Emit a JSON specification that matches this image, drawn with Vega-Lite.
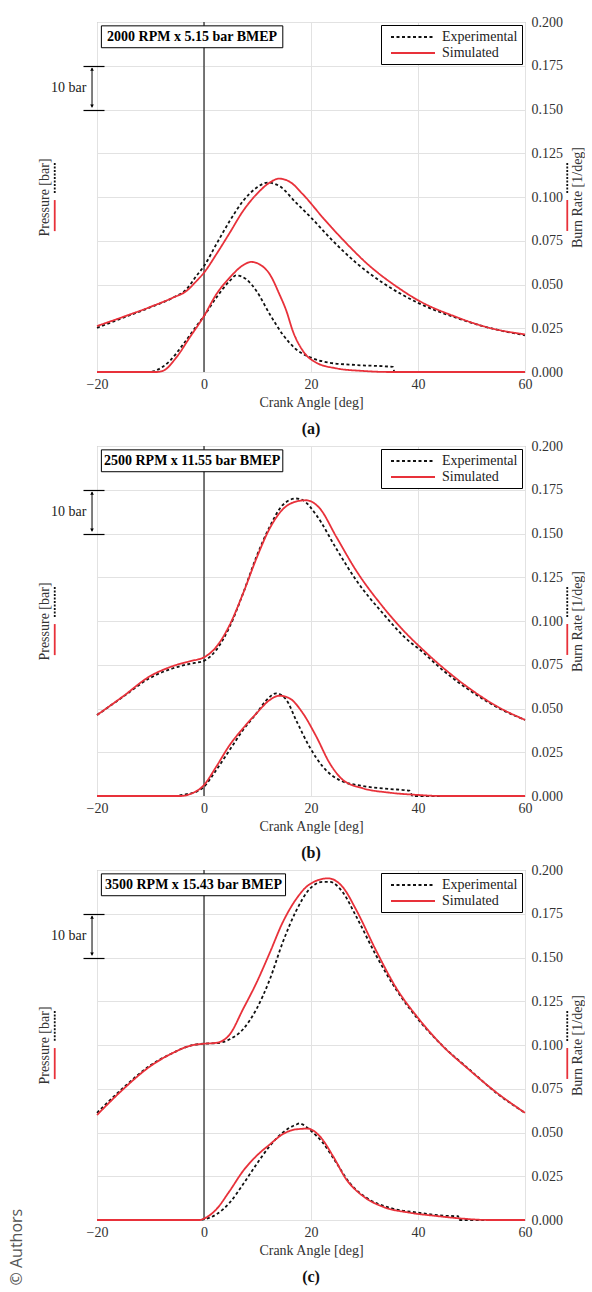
{
"$schema":"https://vega.github.io/schema/vega-lite/v6.json",
"background":"white",
"padding":{"left":9,"top":14,"right":0,"bottom":0},
"title":{"text":"© Authors","orient":"left","anchor":"start","font":"Open Sans","fontSize":16,"fontWeight":"normal","color":"#555","offset":12},
"spacing":0,
"resolve":{"scale":{"color":"independent","strokeDash":"independent"},"legend":{"color":"independent","strokeDash":"independent"}},
"datasets":{
"pa":[
{"s":"Experimental","d":-20,"v":10.1},{"s":"Experimental","d":-15.1,"v":12.4},{"s":"Experimental","d":-10.2,"v":14.7},{"s":"Experimental","d":-5.8,"v":17.0},{"s":"Experimental","d":-3.3,"v":18.9},{"s":"Experimental","d":-1.4,"v":22.0},{"s":"Experimental","d":0,"v":24.2},{"s":"Experimental","d":2.3,"v":29.2},{"s":"Experimental","d":4.8,"v":34.5},{"s":"Experimental","d":7.3,"v":39.1},{"s":"Experimental","d":9.8,"v":42.1},{"s":"Experimental","d":11.9,"v":43.3},{"s":"Experimental","d":14.1,"v":42.5},{"s":"Experimental","d":17.2,"v":38.7},{"s":"Experimental","d":20,"v":35.3},{"s":"Experimental","d":23.5,"v":30.7},{"s":"Experimental","d":28.4,"v":25.0},{"s":"Experimental","d":33.4,"v":20.4},{"s":"Experimental","d":40,"v":15.8},{"s":"Experimental","d":47.1,"v":12.4},{"s":"Experimental","d":53.3,"v":10.1},{"s":"Experimental","d":60,"v":8.4},
{"s":"Simulated","d":-20,"v":10.5},{"s":"Simulated","d":-15.1,"v":12.6},{"s":"Simulated","d":-10.2,"v":14.8},{"s":"Simulated","d":-5.8,"v":17.0},{"s":"Simulated","d":-3.3,"v":18.5},{"s":"Simulated","d":-1.4,"v":20.8},{"s":"Simulated","d":0,"v":22.7},{"s":"Simulated","d":2.3,"v":26.9},{"s":"Simulated","d":4.8,"v":31.8},{"s":"Simulated","d":7.3,"v":36.8},{"s":"Simulated","d":9.8,"v":40.6},{"s":"Simulated","d":12.3,"v":43.3},{"s":"Simulated","d":14.0,"v":44.2},{"s":"Simulated","d":16.0,"v":43.5},{"s":"Simulated","d":18.5,"v":40.6},{"s":"Simulated","d":22.2,"v":35.3},{"s":"Simulated","d":26.0,"v":30.2},{"s":"Simulated","d":31.0,"v":24.2},{"s":"Simulated","d":35.9,"v":19.6},{"s":"Simulated","d":40,"v":16.4},{"s":"Simulated","d":47.1,"v":12.6},{"s":"Simulated","d":53.3,"v":10.1},{"s":"Simulated","d":60,"v":8.6}],
"pb":[
{"s":"Experimental","d":-20,"v":18.5},{"s":"Experimental","d":-15.1,"v":22.7},{"s":"Experimental","d":-10.2,"v":26.9},{"s":"Experimental","d":-5.8,"v":29.2},{"s":"Experimental","d":-2.7,"v":30.2},{"s":"Experimental","d":0,"v":30.9},{"s":"Experimental","d":2.3,"v":33.4},{"s":"Experimental","d":4.8,"v":38.7},{"s":"Experimental","d":7.3,"v":46.3},{"s":"Experimental","d":9.8,"v":54.7},{"s":"Experimental","d":12.3,"v":61.6},{"s":"Experimental","d":14.7,"v":66.5},{"s":"Experimental","d":17.2,"v":68.0},{"s":"Experimental","d":18.5,"v":67.6},{"s":"Experimental","d":21.0,"v":64.2},{"s":"Experimental","d":24.7,"v":56.6},{"s":"Experimental","d":28.4,"v":49.4},{"s":"Experimental","d":33.4,"v":41.8},{"s":"Experimental","d":38.4,"v":35.3},{"s":"Experimental","d":40,"v":33.8},{"s":"Experimental","d":44.6,"v":28.8},{"s":"Experimental","d":49.6,"v":24.2},{"s":"Experimental","d":54.6,"v":20.4},{"s":"Experimental","d":60,"v":17.4},
{"s":"Simulated","d":-20,"v":18.5},{"s":"Simulated","d":-15.1,"v":22.8},{"s":"Simulated","d":-10.2,"v":27.3},{"s":"Simulated","d":-5.8,"v":29.7},{"s":"Simulated","d":-2.7,"v":30.8},{"s":"Simulated","d":0,"v":31.7},{"s":"Simulated","d":2.3,"v":34.1},{"s":"Simulated","d":4.8,"v":39.1},{"s":"Simulated","d":7.3,"v":46.3},{"s":"Simulated","d":9.8,"v":54.3},{"s":"Simulated","d":12.3,"v":61.2},{"s":"Simulated","d":14.7,"v":65.5},{"s":"Simulated","d":17.2,"v":67.3},{"s":"Simulated","d":19.1,"v":67.6},{"s":"Simulated","d":21.6,"v":65.8},{"s":"Simulated","d":24.7,"v":59.3},{"s":"Simulated","d":28.4,"v":51.6},{"s":"Simulated","d":33.4,"v":43.3},{"s":"Simulated","d":38.4,"v":36.4},{"s":"Simulated","d":40,"v":34.5},{"s":"Simulated","d":44.6,"v":29.4},{"s":"Simulated","d":49.6,"v":24.6},{"s":"Simulated","d":54.6,"v":20.6},{"s":"Simulated","d":60,"v":17.4}],
"pc":[
{"s":"Experimental","d":-20,"v":24.5},{"s":"Experimental","d":-15.1,"v":30.2},{"s":"Experimental","d":-10.2,"v":35.2},{"s":"Experimental","d":-5.8,"v":38.2},{"s":"Experimental","d":-2.7,"v":39.8},{"s":"Experimental","d":0,"v":40.3},{"s":"Experimental","d":2.3,"v":40.4},{"s":"Experimental","d":4.8,"v":41.3},{"s":"Experimental","d":7.3,"v":43.6},{"s":"Experimental","d":9.8,"v":48.2},{"s":"Experimental","d":12.3,"v":55.0},{"s":"Experimental","d":14.7,"v":63.4},{"s":"Experimental","d":17.2,"v":70.6},{"s":"Experimental","d":19.7,"v":75.6},{"s":"Experimental","d":22.2,"v":77.3},{"s":"Experimental","d":23.5,"v":77.3},{"s":"Experimental","d":26.0,"v":74.8},{"s":"Experimental","d":28.4,"v":69.5},{"s":"Experimental","d":32.2,"v":60.4},{"s":"Experimental","d":35.9,"v":52.7},{"s":"Experimental","d":40,"v":45.9},{"s":"Experimental","d":44.6,"v":39.8},{"s":"Experimental","d":49.6,"v":34.4},{"s":"Experimental","d":54.6,"v":29.1},{"s":"Experimental","d":60,"v":24.5},
{"s":"Simulated","d":-20,"v":24.0},{"s":"Simulated","d":-15.1,"v":29.9},{"s":"Simulated","d":-10.2,"v":35.0},{"s":"Simulated","d":-5.8,"v":38.2},{"s":"Simulated","d":-2.7,"v":39.8},{"s":"Simulated","d":0,"v":40.3},{"s":"Simulated","d":2.3,"v":40.5},{"s":"Simulated","d":4.8,"v":42.4},{"s":"Simulated","d":7.3,"v":48.2},{"s":"Simulated","d":9.8,"v":54.2},{"s":"Simulated","d":12.3,"v":61.1},{"s":"Simulated","d":14.7,"v":68.0},{"s":"Simulated","d":17.2,"v":73.3},{"s":"Simulated","d":19.7,"v":76.7},{"s":"Simulated","d":23.2,"v":78.1},{"s":"Simulated","d":26.0,"v":76.0},{"s":"Simulated","d":28.4,"v":71.0},{"s":"Simulated","d":32.2,"v":61.5},{"s":"Simulated","d":35.9,"v":53.1},{"s":"Simulated","d":40,"v":46.2},{"s":"Simulated","d":44.6,"v":39.8},{"s":"Simulated","d":49.6,"v":34.3},{"s":"Simulated","d":54.6,"v":29.2},{"s":"Simulated","d":60,"v":24.5}],
"ba":[
{"s":"Experimental","d":-20,"v":0},{"s":"Experimental","d":-10.2,"v":0},{"s":"Experimental","d":-8.9,"v":0.001},{"s":"Experimental","d":-6.4,"v":0.0063},{"s":"Experimental","d":-3.9,"v":0.0158},{"s":"Experimental","d":-1.4,"v":0.0263},{"s":"Experimental","d":0,"v":0.032},{"s":"Experimental","d":2.3,"v":0.0425},{"s":"Experimental","d":4.8,"v":0.052},{"s":"Experimental","d":6.0,"v":0.0552},{"s":"Experimental","d":7.9,"v":0.053},{"s":"Experimental","d":9.8,"v":0.0463},{"s":"Experimental","d":12.3,"v":0.033},{"s":"Experimental","d":14.7,"v":0.0215},{"s":"Experimental","d":17.2,"v":0.013},{"s":"Experimental","d":20,"v":0.0082},{"s":"Experimental","d":23.5,"v":0.0053},{"s":"Experimental","d":28.4,"v":0.004},{"s":"Experimental","d":35.3,"v":0.0029},{"s":"Experimental","d":35.6,"v":0},{"s":"Experimental","d":60,"v":0},
{"s":"Simulated","d":-20,"v":0},{"s":"Simulated","d":-8.9,"v":0},{"s":"Simulated","d":-7.7,"v":0.0006},{"s":"Simulated","d":-5.2,"v":0.0082},{"s":"Simulated","d":-2.7,"v":0.0196},{"s":"Simulated","d":0,"v":0.032},{"s":"Simulated","d":2.3,"v":0.0444},{"s":"Simulated","d":4.8,"v":0.0539},{"s":"Simulated","d":7.3,"v":0.061},{"s":"Simulated","d":8.8,"v":0.0629},{"s":"Simulated","d":10.4,"v":0.0615},{"s":"Simulated","d":12.3,"v":0.0558},{"s":"Simulated","d":14.1,"v":0.0444},{"s":"Simulated","d":15.4,"v":0.0349},{"s":"Simulated","d":16.6,"v":0.0234},{"s":"Simulated","d":18.5,"v":0.012},{"s":"Simulated","d":21,"v":0.0053},{"s":"Simulated","d":24.7,"v":0.0021},{"s":"Simulated","d":29.7,"v":0.0006},{"s":"Simulated","d":34.7,"v":0},{"s":"Simulated","d":60,"v":0}],
"bb":[
{"s":"Experimental","d":-20,"v":0},{"s":"Experimental","d":-5.8,"v":0},{"s":"Experimental","d":-3.3,"v":0.001},{"s":"Experimental","d":-1.4,"v":0.0025},{"s":"Experimental","d":0,"v":0.0053},{"s":"Experimental","d":2.3,"v":0.0149},{"s":"Experimental","d":4.8,"v":0.0263},{"s":"Experimental","d":7.3,"v":0.0377},{"s":"Experimental","d":9.8,"v":0.0472},{"s":"Experimental","d":11.6,"v":0.0545},{"s":"Experimental","d":13.5,"v":0.0587},{"s":"Experimental","d":15.4,"v":0.0549},{"s":"Experimental","d":17.2,"v":0.0434},{"s":"Experimental","d":19.7,"v":0.0282},{"s":"Experimental","d":22.2,"v":0.0168},{"s":"Experimental","d":25.3,"v":0.0091},{"s":"Experimental","d":29.7,"v":0.0057},{"s":"Experimental","d":34.7,"v":0.004},{"s":"Experimental","d":38.4,"v":0.003},{"s":"Experimental","d":39.0,"v":0},{"s":"Experimental","d":60,"v":0},
{"s":"Simulated","d":-20,"v":0},{"s":"Simulated","d":-4.5,"v":0},{"s":"Simulated","d":-2.7,"v":0.001},{"s":"Simulated","d":0,"v":0.0063},{"s":"Simulated","d":2.3,"v":0.0168},{"s":"Simulated","d":4.8,"v":0.0291},{"s":"Simulated","d":7.3,"v":0.0387},{"s":"Simulated","d":9.8,"v":0.0472},{"s":"Simulated","d":12.3,"v":0.0549},{"s":"Simulated","d":14.1,"v":0.0573},{"s":"Simulated","d":16.0,"v":0.0558},{"s":"Simulated","d":18.5,"v":0.0472},{"s":"Simulated","d":21.0,"v":0.0339},{"s":"Simulated","d":23.5,"v":0.0187},{"s":"Simulated","d":26.0,"v":0.0091},{"s":"Simulated","d":29.7,"v":0.0044},{"s":"Simulated","d":34.7,"v":0.0019},{"s":"Simulated","d":40,"v":0.0006},{"s":"Simulated","d":44.6,"v":0},{"s":"Simulated","d":60,"v":0}],
"bc":[
{"s":"Experimental","d":-20,"v":0},{"s":"Experimental","d":-1,"v":0},{"s":"Experimental","d":0,"v":0.0004},{"s":"Experimental","d":2.3,"v":0.0032},{"s":"Experimental","d":4.8,"v":0.0099},{"s":"Experimental","d":7.3,"v":0.0204},{"s":"Experimental","d":9.8,"v":0.0318},{"s":"Experimental","d":12.3,"v":0.0423},{"s":"Experimental","d":14.7,"v":0.0499},{"s":"Experimental","d":17.2,"v":0.0545},{"s":"Experimental","d":17.9,"v":0.0552},{"s":"Experimental","d":18.5,"v":0.0545},{"s":"Experimental","d":20,"v":0.0509},{"s":"Experimental","d":22.2,"v":0.0442},{"s":"Experimental","d":24.7,"v":0.0328},{"s":"Experimental","d":27.2,"v":0.0213},{"s":"Experimental","d":30.3,"v":0.0128},{"s":"Experimental","d":34.7,"v":0.007},{"s":"Experimental","d":40,"v":0.0042},{"s":"Experimental","d":45.9,"v":0.0023},{"s":"Experimental","d":47.5,"v":0.0022},{"s":"Experimental","d":47.7,"v":0},{"s":"Experimental","d":60,"v":0},
{"s":"Simulated","d":-20,"v":0},{"s":"Simulated","d":-0.8,"v":0},{"s":"Simulated","d":0,"v":0.0008},{"s":"Simulated","d":2.3,"v":0.0061},{"s":"Simulated","d":4.8,"v":0.0166},{"s":"Simulated","d":7.3,"v":0.028},{"s":"Simulated","d":9.8,"v":0.0366},{"s":"Simulated","d":12.3,"v":0.0432},{"s":"Simulated","d":14.7,"v":0.049},{"s":"Simulated","d":17.2,"v":0.0518},{"s":"Simulated","d":19.4,"v":0.0522},{"s":"Simulated","d":21.6,"v":0.048},{"s":"Simulated","d":24.1,"v":0.0366},{"s":"Simulated","d":26.6,"v":0.0232},{"s":"Simulated","d":29.7,"v":0.0137},{"s":"Simulated","d":33.4,"v":0.0076},{"s":"Simulated","d":38.4,"v":0.0042},{"s":"Simulated","d":43.4,"v":0.0023},{"s":"Simulated","d":48.3,"v":0.0008},{"s":"Simulated","d":53.3,"v":0},{"s":"Simulated","d":60,"v":0}]
},
"vconcat":[
{"width":428,"height":350,
 "title":{"text":"(a)","orient":"bottom","offset":12,"fontSize":16,"fontWeight":"bold","font":"Liberation Serif","color":"#111","frame":"group","anchor":"middle"},
 "resolve":{"scale":{"y":"independent"}},
 "layer":[
  {"layer":[
    {"data":{"values":[{}]},"mark":{"type":"rule","color":"#222","strokeWidth":1.2},"encoding":{"x":{"datum":0,"type":"quantitative","scale":{"domain":[-20,60],"nice":false,"zero":false}}}},
    {"data":{"name":"pa"},"mark":{"type":"line","interpolate":"monotone","strokeWidth":1.8},
     "encoding":{
      "x":{"field":"d","type":"quantitative","scale":{"domain":[-20,60],"nice":false,"zero":false},"axis":{"values":[-20,0,20,40,60],"grid":true,"gridColor":"#e2e2e2","domain":false,"ticks":false,"tickSize":0,"labelPadding":5,"labelFlush":false,"labelOverlap":false,"labelFont":"Liberation Serif","titleFont":"Liberation Serif","title":"Crank Angle [deg]","titlePadding":4}},
      "y":{"field":"v","type":"quantitative","scale":{"domain":[0,80],"nice":false,"zero":false},"axis":{"orient":"left","values":[60,65,70],"labelExpr":"datum.value == 65 ? '10 bar' : ''","offset":-7,"tickSize":21,"tickColor":"black","tickWidth":1.2,"tickOpacity":{"condition":{"test":"datum.value == 65","value":0},"value":1},"domain":false,"grid":false,"labelPadding":-3,"labelColor":"#222","labelOverlap":false,"labelFont":"Liberation Serif","titleFont":"Liberation Serif","title":"Pressure [bar]","titlePadding":-1}},
      "color":{"field":"s","type":"nominal","scale":{"domain":["Experimental","Simulated"],"range":["#111111","#e8313a"]},"legend":{"title":null,"orient":"top-right","offset":3,"strokeColor":"black","fillColor":"white","padding":4,"symbolType":"M-0.286,0H6","symbolSize":196,"symbolStrokeWidth":1.8,"labelFont":"Liberation Serif","labelFontSize":14,"labelColor":"#222","rowPadding":1,"labelOffset":41}},
      "strokeDash":{"field":"s","type":"nominal","scale":{"domain":["Experimental","Simulated"],"range":[[3,2.5],[1,0]]},"legend":{"title":null,"orient":"top-right","offset":3,"strokeColor":"black","fillColor":"white","padding":4,"symbolType":"M-0.286,0H6","symbolSize":196,"symbolStrokeWidth":1.8,"labelFont":"Liberation Serif","labelFontSize":14,"labelColor":"#222","rowPadding":1,"labelOffset":41}}}},
    {"data":{"values":[{}]},"mark":{"type":"rule","color":"black","strokeWidth":1},"encoding":{"x":{"datum":-20.93,"type":"quantitative","scale":{"domain":[-20,60],"nice":false,"zero":false}},"y":{"datum":60.5,"type":"quantitative","scale":{"domain":[0,80],"nice":false,"zero":false}},"y2":{"datum":69.5}}},
    {"data":{"values":[{}]},"mark":{"type":"point","shape":"triangle-up","filled":true,"size":14,"color":"black","opacity":1},"encoding":{"x":{"datum":-20.93,"type":"quantitative","scale":{"domain":[-20,60],"nice":false,"zero":false}},"y":{"datum":69.2,"type":"quantitative","scale":{"domain":[0,80],"nice":false,"zero":false}}}},
    {"data":{"values":[{}]},"mark":{"type":"point","shape":"triangle-down","filled":true,"size":14,"color":"black","opacity":1},"encoding":{"x":{"datum":-20.93,"type":"quantitative","scale":{"domain":[-20,60],"nice":false,"zero":false}},"y":{"datum":60.8,"type":"quantitative","scale":{"domain":[0,80],"nice":false,"zero":false}}}},
    {"data":{"values":[{}]},"mark":{"type":"rule","color":"#111","strokeWidth":1.8,"strokeDash":[2,1.5]},"encoding":{"x":{"datum":-27.9,"type":"quantitative","scale":{"domain":[-20,60],"nice":false,"zero":false}},"y":{"datum":47.8,"type":"quantitative","scale":{"domain":[0,80],"nice":false,"zero":false}},"y2":{"datum":40.7}}},
    {"data":{"values":[{}]},"mark":{"type":"rule","color":"#e8313a","strokeWidth":1.8},"encoding":{"x":{"datum":-27.9,"type":"quantitative","scale":{"domain":[-20,60],"nice":false,"zero":false}},"y":{"datum":39.3,"type":"quantitative","scale":{"domain":[0,80],"nice":false,"zero":false}},"y2":{"datum":32.2}}}
  ]},
  {"layer":[
    {"data":{"name":"ba"},"mark":{"type":"line","interpolate":"monotone","strokeWidth":1.8},
     "encoding":{
      "x":{"field":"d","type":"quantitative","scale":{"domain":[-20,60],"nice":false,"zero":false}},
      "y":{"field":"v","type":"quantitative","scale":{"domain":[0,0.2],"nice":false,"zero":false},"axis":{"orient":"right","values":[0,0.025,0.05,0.075,0.1,0.125,0.15,0.175,0.2],"format":".3f","grid":true,"gridColor":"#e2e2e2","domain":false,"ticks":false,"tickSize":0,"labelPadding":6,"labelOverlap":false,"labelFlush":false,"labelFont":"Liberation Serif","titleFont":"Liberation Serif","title":"Burn Rate [1/deg]","titleAngle":270,"titleBaseline":"top","titlePadding":8}},
      "color":{"field":"s","type":"nominal","scale":{"domain":["Experimental","Simulated"],"range":["#111111","#e8313a"]},"legend":{"title":null,"orient":"top-right","offset":3,"strokeColor":"black","fillColor":"white","padding":4,"symbolType":"M-0.286,0H6","symbolSize":196,"symbolStrokeWidth":1.8,"labelFont":"Liberation Serif","labelFontSize":14,"labelColor":"#222","rowPadding":1,"labelOffset":41}},
      "strokeDash":{"field":"s","type":"nominal","scale":{"domain":["Experimental","Simulated"],"range":[[3,2.5],[1,0]]},"legend":{"title":null,"orient":"top-right","offset":3,"strokeColor":"black","fillColor":"white","padding":4,"symbolType":"M-0.286,0H6","symbolSize":196,"symbolStrokeWidth":1.8,"labelFont":"Liberation Serif","labelFontSize":14,"labelColor":"#222","rowPadding":1,"labelOffset":41}}}},
    {"data":{"values":[{}]},"mark":{"type":"rect","fill":"white","stroke":"black","strokeWidth":1},"encoding":{"x":{"datum":-19.18,"type":"quantitative","scale":{"domain":[-20,60],"nice":false,"zero":false}},"x2":{"datum":14.73},"y":{"datum":0.1978,"type":"quantitative","scale":{"domain":[0,0.2],"nice":false,"zero":false}},"y2":{"datum":0.1853}}},
    {"data":{"values":[{}]},"mark":{"type":"text","text":"2000 RPM x 5.15 bar BMEP","font":"Liberation Serif","fontSize":14,"fontWeight":"bold","color":"black","align":"center","baseline":"middle"},"encoding":{"x":{"datum":-2.22,"type":"quantitative","scale":{"domain":[-20,60],"nice":false,"zero":false}},"y":{"datum":0.1915,"type":"quantitative","scale":{"domain":[0,0.2],"nice":false,"zero":false}}}},
    {"data":{"values":[{}]},"mark":{"type":"rule","color":"#111","strokeWidth":1.8,"strokeDash":[2,1.5]},"encoding":{"x":{"datum":67.9,"type":"quantitative","scale":{"domain":[-20,60],"nice":false,"zero":false}},"y":{"datum":0.1194,"type":"quantitative","scale":{"domain":[0,0.2],"nice":false,"zero":false}},"y2":{"datum":0.1017}}},
    {"data":{"values":[{}]},"mark":{"type":"rule","color":"#e8313a","strokeWidth":1.8},"encoding":{"x":{"datum":67.9,"type":"quantitative","scale":{"domain":[-20,60],"nice":false,"zero":false}},"y":{"datum":0.0983,"type":"quantitative","scale":{"domain":[0,0.2],"nice":false,"zero":false}},"y2":{"datum":0.0806}}}
  ]}
 ]},
{"width":428,"height":350,
 "title":{"text":"(b)","orient":"bottom","offset":12,"fontSize":16,"fontWeight":"bold","font":"Liberation Serif","color":"#111","frame":"group","anchor":"middle"},
 "resolve":{"scale":{"y":"independent"}},
 "layer":[
  {"layer":[
    {"data":{"values":[{}]},"mark":{"type":"rule","color":"#222","strokeWidth":1.2},"encoding":{"x":{"datum":0,"type":"quantitative","scale":{"domain":[-20,60],"nice":false,"zero":false}}}},
    {"data":{"name":"pb"},"mark":{"type":"line","interpolate":"monotone","strokeWidth":1.8},
     "encoding":{
      "x":{"field":"d","type":"quantitative","scale":{"domain":[-20,60],"nice":false,"zero":false},"axis":{"values":[-20,0,20,40,60],"grid":true,"gridColor":"#e2e2e2","domain":false,"ticks":false,"tickSize":0,"labelPadding":5,"labelFlush":false,"labelOverlap":false,"labelFont":"Liberation Serif","titleFont":"Liberation Serif","title":"Crank Angle [deg]","titlePadding":4}},
      "y":{"field":"v","type":"quantitative","scale":{"domain":[0,80],"nice":false,"zero":false},"axis":{"orient":"left","values":[60,65,70],"labelExpr":"datum.value == 65 ? '10 bar' : ''","offset":-7,"tickSize":21,"tickColor":"black","tickWidth":1.2,"tickOpacity":{"condition":{"test":"datum.value == 65","value":0},"value":1},"domain":false,"grid":false,"labelPadding":-3,"labelColor":"#222","labelOverlap":false,"labelFont":"Liberation Serif","titleFont":"Liberation Serif","title":"Pressure [bar]","titlePadding":-1}},
      "color":{"field":"s","type":"nominal","scale":{"domain":["Experimental","Simulated"],"range":["#111111","#e8313a"]},"legend":{"title":null,"orient":"top-right","offset":3,"strokeColor":"black","fillColor":"white","padding":4,"symbolType":"M-0.286,0H6","symbolSize":196,"symbolStrokeWidth":1.8,"labelFont":"Liberation Serif","labelFontSize":14,"labelColor":"#222","rowPadding":1,"labelOffset":41}},
      "strokeDash":{"field":"s","type":"nominal","scale":{"domain":["Experimental","Simulated"],"range":[[3,2.5],[1,0]]},"legend":{"title":null,"orient":"top-right","offset":3,"strokeColor":"black","fillColor":"white","padding":4,"symbolType":"M-0.286,0H6","symbolSize":196,"symbolStrokeWidth":1.8,"labelFont":"Liberation Serif","labelFontSize":14,"labelColor":"#222","rowPadding":1,"labelOffset":41}}}},
    {"data":{"values":[{}]},"mark":{"type":"rule","color":"black","strokeWidth":1},"encoding":{"x":{"datum":-20.93,"type":"quantitative","scale":{"domain":[-20,60],"nice":false,"zero":false}},"y":{"datum":60.5,"type":"quantitative","scale":{"domain":[0,80],"nice":false,"zero":false}},"y2":{"datum":69.5}}},
    {"data":{"values":[{}]},"mark":{"type":"point","shape":"triangle-up","filled":true,"size":14,"color":"black","opacity":1},"encoding":{"x":{"datum":-20.93,"type":"quantitative","scale":{"domain":[-20,60],"nice":false,"zero":false}},"y":{"datum":69.2,"type":"quantitative","scale":{"domain":[0,80],"nice":false,"zero":false}}}},
    {"data":{"values":[{}]},"mark":{"type":"point","shape":"triangle-down","filled":true,"size":14,"color":"black","opacity":1},"encoding":{"x":{"datum":-20.93,"type":"quantitative","scale":{"domain":[-20,60],"nice":false,"zero":false}},"y":{"datum":60.8,"type":"quantitative","scale":{"domain":[0,80],"nice":false,"zero":false}}}},
    {"data":{"values":[{}]},"mark":{"type":"rule","color":"#111","strokeWidth":1.8,"strokeDash":[2,1.5]},"encoding":{"x":{"datum":-27.9,"type":"quantitative","scale":{"domain":[-20,60],"nice":false,"zero":false}},"y":{"datum":47.8,"type":"quantitative","scale":{"domain":[0,80],"nice":false,"zero":false}},"y2":{"datum":40.7}}},
    {"data":{"values":[{}]},"mark":{"type":"rule","color":"#e8313a","strokeWidth":1.8},"encoding":{"x":{"datum":-27.9,"type":"quantitative","scale":{"domain":[-20,60],"nice":false,"zero":false}},"y":{"datum":39.3,"type":"quantitative","scale":{"domain":[0,80],"nice":false,"zero":false}},"y2":{"datum":32.2}}}
  ]},
  {"layer":[
    {"data":{"name":"bb"},"mark":{"type":"line","interpolate":"monotone","strokeWidth":1.8},
     "encoding":{
      "x":{"field":"d","type":"quantitative","scale":{"domain":[-20,60],"nice":false,"zero":false}},
      "y":{"field":"v","type":"quantitative","scale":{"domain":[0,0.2],"nice":false,"zero":false},"axis":{"orient":"right","values":[0,0.025,0.05,0.075,0.1,0.125,0.15,0.175,0.2],"format":".3f","grid":true,"gridColor":"#e2e2e2","domain":false,"ticks":false,"tickSize":0,"labelPadding":6,"labelOverlap":false,"labelFlush":false,"labelFont":"Liberation Serif","titleFont":"Liberation Serif","title":"Burn Rate [1/deg]","titleAngle":270,"titleBaseline":"top","titlePadding":8}},
      "color":{"field":"s","type":"nominal","scale":{"domain":["Experimental","Simulated"],"range":["#111111","#e8313a"]},"legend":{"title":null,"orient":"top-right","offset":3,"strokeColor":"black","fillColor":"white","padding":4,"symbolType":"M-0.286,0H6","symbolSize":196,"symbolStrokeWidth":1.8,"labelFont":"Liberation Serif","labelFontSize":14,"labelColor":"#222","rowPadding":1,"labelOffset":41}},
      "strokeDash":{"field":"s","type":"nominal","scale":{"domain":["Experimental","Simulated"],"range":[[3,2.5],[1,0]]},"legend":{"title":null,"orient":"top-right","offset":3,"strokeColor":"black","fillColor":"white","padding":4,"symbolType":"M-0.286,0H6","symbolSize":196,"symbolStrokeWidth":1.8,"labelFont":"Liberation Serif","labelFontSize":14,"labelColor":"#222","rowPadding":1,"labelOffset":41}}}},
    {"data":{"values":[{}]},"mark":{"type":"rect","fill":"white","stroke":"black","strokeWidth":1},"encoding":{"x":{"datum":-19.18,"type":"quantitative","scale":{"domain":[-20,60],"nice":false,"zero":false}},"x2":{"datum":14.73},"y":{"datum":0.1978,"type":"quantitative","scale":{"domain":[0,0.2],"nice":false,"zero":false}},"y2":{"datum":0.1853}}},
    {"data":{"values":[{}]},"mark":{"type":"text","text":"2500 RPM x 11.55 bar BMEP","font":"Liberation Serif","fontSize":14,"fontWeight":"bold","color":"black","align":"center","baseline":"middle"},"encoding":{"x":{"datum":-2.22,"type":"quantitative","scale":{"domain":[-20,60],"nice":false,"zero":false}},"y":{"datum":0.1915,"type":"quantitative","scale":{"domain":[0,0.2],"nice":false,"zero":false}}}},
    {"data":{"values":[{}]},"mark":{"type":"rule","color":"#111","strokeWidth":1.8,"strokeDash":[2,1.5]},"encoding":{"x":{"datum":67.9,"type":"quantitative","scale":{"domain":[-20,60],"nice":false,"zero":false}},"y":{"datum":0.1194,"type":"quantitative","scale":{"domain":[0,0.2],"nice":false,"zero":false}},"y2":{"datum":0.1017}}},
    {"data":{"values":[{}]},"mark":{"type":"rule","color":"#e8313a","strokeWidth":1.8},"encoding":{"x":{"datum":67.9,"type":"quantitative","scale":{"domain":[-20,60],"nice":false,"zero":false}},"y":{"datum":0.0983,"type":"quantitative","scale":{"domain":[0,0.2],"nice":false,"zero":false}},"y2":{"datum":0.0806}}}
  ]}
 ]},
{"width":428,"height":350,
 "title":{"text":"(c)","orient":"bottom","offset":12,"fontSize":16,"fontWeight":"bold","font":"Liberation Serif","color":"#111","frame":"group","anchor":"middle"},
 "resolve":{"scale":{"y":"independent"}},
 "layer":[
  {"layer":[
    {"data":{"values":[{}]},"mark":{"type":"rule","color":"#222","strokeWidth":1.2},"encoding":{"x":{"datum":0,"type":"quantitative","scale":{"domain":[-20,60],"nice":false,"zero":false}}}},
    {"data":{"name":"pc"},"mark":{"type":"line","interpolate":"monotone","strokeWidth":1.8},
     "encoding":{
      "x":{"field":"d","type":"quantitative","scale":{"domain":[-20,60],"nice":false,"zero":false},"axis":{"values":[-20,0,20,40,60],"grid":true,"gridColor":"#e2e2e2","domain":false,"ticks":false,"tickSize":0,"labelPadding":5,"labelFlush":false,"labelOverlap":false,"labelFont":"Liberation Serif","titleFont":"Liberation Serif","title":"Crank Angle [deg]","titlePadding":4}},
      "y":{"field":"v","type":"quantitative","scale":{"domain":[0,80],"nice":false,"zero":false},"axis":{"orient":"left","values":[60,65,70],"labelExpr":"datum.value == 65 ? '10 bar' : ''","offset":-7,"tickSize":21,"tickColor":"black","tickWidth":1.2,"tickOpacity":{"condition":{"test":"datum.value == 65","value":0},"value":1},"domain":false,"grid":false,"labelPadding":-3,"labelColor":"#222","labelOverlap":false,"labelFont":"Liberation Serif","titleFont":"Liberation Serif","title":"Pressure [bar]","titlePadding":-1}},
      "color":{"field":"s","type":"nominal","scale":{"domain":["Experimental","Simulated"],"range":["#111111","#e8313a"]},"legend":{"title":null,"orient":"top-right","offset":3,"strokeColor":"black","fillColor":"white","padding":4,"symbolType":"M-0.286,0H6","symbolSize":196,"symbolStrokeWidth":1.8,"labelFont":"Liberation Serif","labelFontSize":14,"labelColor":"#222","rowPadding":1,"labelOffset":41}},
      "strokeDash":{"field":"s","type":"nominal","scale":{"domain":["Experimental","Simulated"],"range":[[3,2.5],[1,0]]},"legend":{"title":null,"orient":"top-right","offset":3,"strokeColor":"black","fillColor":"white","padding":4,"symbolType":"M-0.286,0H6","symbolSize":196,"symbolStrokeWidth":1.8,"labelFont":"Liberation Serif","labelFontSize":14,"labelColor":"#222","rowPadding":1,"labelOffset":41}}}},
    {"data":{"values":[{}]},"mark":{"type":"rule","color":"black","strokeWidth":1},"encoding":{"x":{"datum":-20.93,"type":"quantitative","scale":{"domain":[-20,60],"nice":false,"zero":false}},"y":{"datum":60.5,"type":"quantitative","scale":{"domain":[0,80],"nice":false,"zero":false}},"y2":{"datum":69.5}}},
    {"data":{"values":[{}]},"mark":{"type":"point","shape":"triangle-up","filled":true,"size":14,"color":"black","opacity":1},"encoding":{"x":{"datum":-20.93,"type":"quantitative","scale":{"domain":[-20,60],"nice":false,"zero":false}},"y":{"datum":69.2,"type":"quantitative","scale":{"domain":[0,80],"nice":false,"zero":false}}}},
    {"data":{"values":[{}]},"mark":{"type":"point","shape":"triangle-down","filled":true,"size":14,"color":"black","opacity":1},"encoding":{"x":{"datum":-20.93,"type":"quantitative","scale":{"domain":[-20,60],"nice":false,"zero":false}},"y":{"datum":60.8,"type":"quantitative","scale":{"domain":[0,80],"nice":false,"zero":false}}}},
    {"data":{"values":[{}]},"mark":{"type":"rule","color":"#111","strokeWidth":1.8,"strokeDash":[2,1.5]},"encoding":{"x":{"datum":-27.9,"type":"quantitative","scale":{"domain":[-20,60],"nice":false,"zero":false}},"y":{"datum":47.8,"type":"quantitative","scale":{"domain":[0,80],"nice":false,"zero":false}},"y2":{"datum":40.7}}},
    {"data":{"values":[{}]},"mark":{"type":"rule","color":"#e8313a","strokeWidth":1.8},"encoding":{"x":{"datum":-27.9,"type":"quantitative","scale":{"domain":[-20,60],"nice":false,"zero":false}},"y":{"datum":39.3,"type":"quantitative","scale":{"domain":[0,80],"nice":false,"zero":false}},"y2":{"datum":32.2}}}
  ]},
  {"layer":[
    {"data":{"name":"bc"},"mark":{"type":"line","interpolate":"monotone","strokeWidth":1.8},
     "encoding":{
      "x":{"field":"d","type":"quantitative","scale":{"domain":[-20,60],"nice":false,"zero":false}},
      "y":{"field":"v","type":"quantitative","scale":{"domain":[0,0.2],"nice":false,"zero":false},"axis":{"orient":"right","values":[0,0.025,0.05,0.075,0.1,0.125,0.15,0.175,0.2],"format":".3f","grid":true,"gridColor":"#e2e2e2","domain":false,"ticks":false,"tickSize":0,"labelPadding":6,"labelOverlap":false,"labelFlush":false,"labelFont":"Liberation Serif","titleFont":"Liberation Serif","title":"Burn Rate [1/deg]","titleAngle":270,"titleBaseline":"top","titlePadding":8}},
      "color":{"field":"s","type":"nominal","scale":{"domain":["Experimental","Simulated"],"range":["#111111","#e8313a"]},"legend":{"title":null,"orient":"top-right","offset":3,"strokeColor":"black","fillColor":"white","padding":4,"symbolType":"M-0.286,0H6","symbolSize":196,"symbolStrokeWidth":1.8,"labelFont":"Liberation Serif","labelFontSize":14,"labelColor":"#222","rowPadding":1,"labelOffset":41}},
      "strokeDash":{"field":"s","type":"nominal","scale":{"domain":["Experimental","Simulated"],"range":[[3,2.5],[1,0]]},"legend":{"title":null,"orient":"top-right","offset":3,"strokeColor":"black","fillColor":"white","padding":4,"symbolType":"M-0.286,0H6","symbolSize":196,"symbolStrokeWidth":1.8,"labelFont":"Liberation Serif","labelFontSize":14,"labelColor":"#222","rowPadding":1,"labelOffset":41}}}},
    {"data":{"values":[{}]},"mark":{"type":"rect","fill":"white","stroke":"black","strokeWidth":1},"encoding":{"x":{"datum":-19.18,"type":"quantitative","scale":{"domain":[-20,60],"nice":false,"zero":false}},"x2":{"datum":15.24},"y":{"datum":0.1978,"type":"quantitative","scale":{"domain":[0,0.2],"nice":false,"zero":false}},"y2":{"datum":0.1853}}},
    {"data":{"values":[{}]},"mark":{"type":"text","text":"3500 RPM x 15.43 bar BMEP","font":"Liberation Serif","fontSize":14,"fontWeight":"bold","color":"black","align":"center","baseline":"middle"},"encoding":{"x":{"datum":-1.96,"type":"quantitative","scale":{"domain":[-20,60],"nice":false,"zero":false}},"y":{"datum":0.1915,"type":"quantitative","scale":{"domain":[0,0.2],"nice":false,"zero":false}}}},
    {"data":{"values":[{}]},"mark":{"type":"rule","color":"#111","strokeWidth":1.8,"strokeDash":[2,1.5]},"encoding":{"x":{"datum":67.9,"type":"quantitative","scale":{"domain":[-20,60],"nice":false,"zero":false}},"y":{"datum":0.1194,"type":"quantitative","scale":{"domain":[0,0.2],"nice":false,"zero":false}},"y2":{"datum":0.1017}}},
    {"data":{"values":[{}]},"mark":{"type":"rule","color":"#e8313a","strokeWidth":1.8},"encoding":{"x":{"datum":67.9,"type":"quantitative","scale":{"domain":[-20,60],"nice":false,"zero":false}},"y":{"datum":0.0983,"type":"quantitative","scale":{"domain":[0,0.2],"nice":false,"zero":false}},"y2":{"datum":0.0806}}}
  ]}
 ]}
],
"config":{
 "font":"Liberation Serif",
 "view":{"stroke":"#a0a0a0","strokeWidth":1},
 "axis":{"labelFont":"Liberation Serif","titleFont":"Liberation Serif","labelFontSize":14,"titleFontSize":14,"titleFontWeight":"normal","labelColor":"#333","titleColor":"#333"},
 "legend":{"labelFont":"Liberation Serif"}
}
}
